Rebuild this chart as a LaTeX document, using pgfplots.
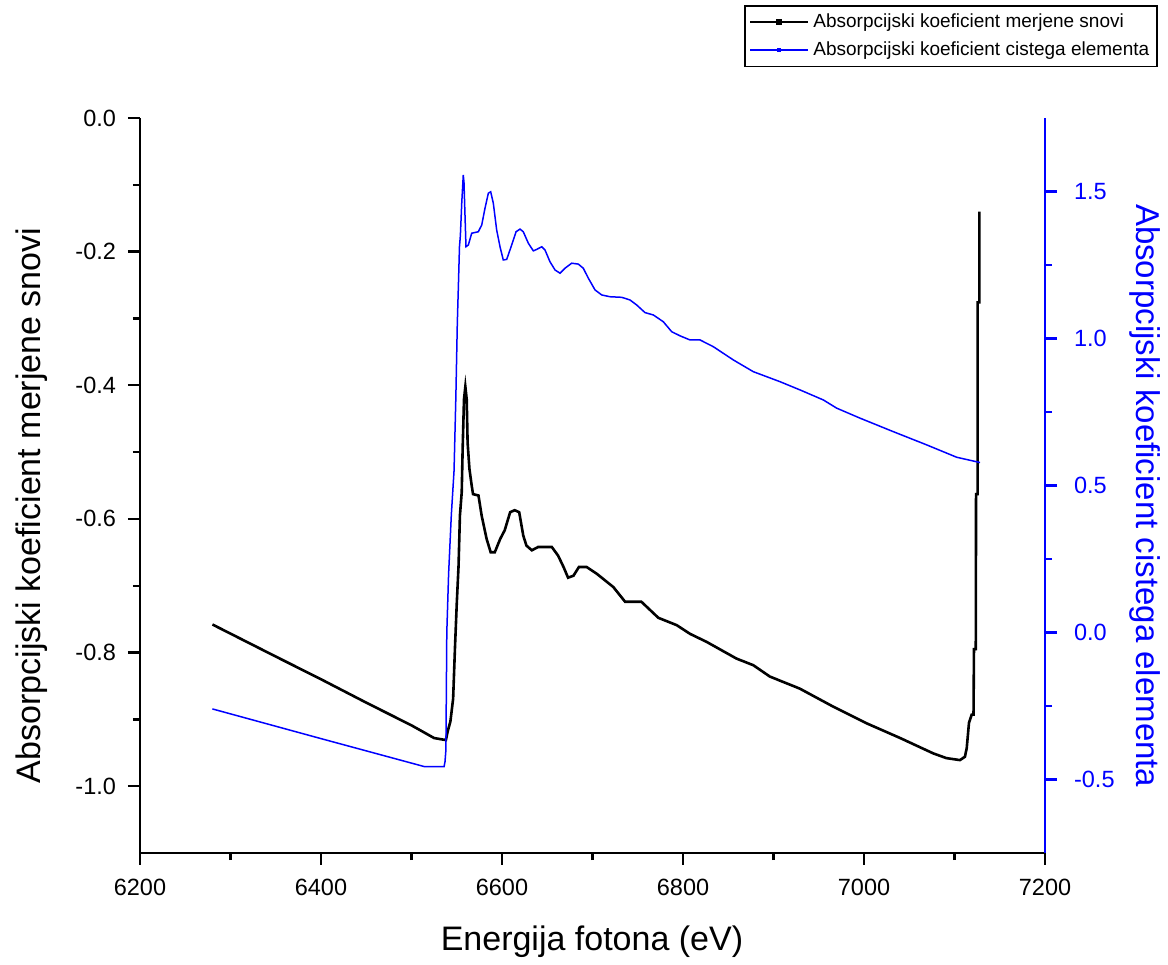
\documentclass[border=0pt]{standalone}
\usepackage{fontspec}
\setmainfont{Liberation Sans}
\usepackage{pgfplots}
\pgfplotsset{compat=1.18}
\definecolor{origblue}{RGB}{0,0,255}
\begin{document}
\begin{tikzpicture}
\pgfplotsset{
  common/.style={
    width=452.5pt, height=367.5pt, scale only axis,
    xmin=6200, xmax=7200,
    tick align=outside,
    major tick length=6pt, minor tick length=3.6pt,
    /pgf/number format/assume math mode=true,
    tick label style={font=\fontsize{11.75}{13}\selectfont},
    axis line style={-, line width=1.4pt},
    every tick/.style={line width=1.2pt},
    clip=false,
  }
}
\begin{axis}[common,
  ymin=-1.1, ymax=0,
  axis x line*=bottom, axis y line*=left,
  xtick={6200,6400,6600,6800,7000,7200},
  minor x tick num=1,
  ytick={-1.0,-0.8,-0.6,-0.4,-0.2,0.0},
  minor y tick num=1,
  xticklabel style={/pgf/number format/1000 sep={}, yshift=-3.5pt},
  yticklabel style={xshift=-2.5pt, /pgf/number format/.cd, fixed, fixed zerofill, precision=1},
  every tick/.style={line width=1.2pt, black},
  xlabel={Energija fotona (eV)},
  ylabel={Absorpcijski koeficient merjene snovi},
  every axis x label/.style={at={(axis description cs:0.4994,-0.121)}, anchor=center, font=\fontsize{17}{20}\selectfont},
  every axis y label/.style={at={(axis description cs:-0.1193,0.473)}, anchor=center, rotate=90, font=\fontsize{17}{20}\selectfont},
]
\path (axis description cs:-0.1547,-0.1497) rectangle (axis description cs:1.1359,1.1605);
\addplot[black, line width=1.3pt] coordinates {
(6280,-0.758) (6350,-0.806) (6400,-0.840) (6450,-0.875) (6500,-0.909) (6525,-0.928) (6538,-0.931)
(6540,-0.918) (6543,-0.903) (6546,-0.869) (6548,-0.794) (6550,-0.727) (6552,-0.670)
(6553.5,-0.595) (6555.5,-0.560) (6556.5,-0.496) (6558,-0.421) (6559.5,-0.402) (6561,-0.421)
(6562,-0.486) (6564,-0.525) (6566.5,-0.550) (6568,-0.563) (6574,-0.565) (6577.5,-0.595)
(6583,-0.630) (6587.5,-0.650) (6592,-0.650) (6598,-0.630) (6603,-0.617) (6609,-0.590)
(6614,-0.587) (6619,-0.590) (6623.5,-0.625) (6627,-0.640) (6633,-0.647) (6640,-0.642)
(6655,-0.642) (6662,-0.655) (6668,-0.672) (6673,-0.688) (6679,-0.685) (6685,-0.672)
(6693.5,-0.672) (6704.6,-0.682) (6723,-0.702) (6736,-0.724) (6754,-0.724) (6772.7,-0.748)
(6793,-0.759) (6807.7,-0.772) (6826,-0.784) (6859,-0.809) (6877.7,-0.819) (6896,-0.836)
(6929,-0.854) (6966,-0.881) (7003,-0.906) (7040,-0.928) (7076.6,-0.951) (7091,-0.958)
(7106,-0.961) (7111.5,-0.956) (7113.5,-0.943) (7116,-0.905) (7119,-0.893) (7121,-0.893)
(7121.5,-0.795) (7123.5,-0.795) (7123.8,-0.563) (7125.6,-0.563) (7125.6,-0.276)
(7127.4,-0.276) (7127.4,-0.140)
};
\end{axis}
\begin{axis}[common,
  ymin=-0.75, ymax=1.75,
  axis x line=none, axis y line*=right,
  ytick={-0.5,0.0,0.5,1.0,1.5},
  minor y tick num=1,
  yticklabel style={origblue, xshift=5pt, /pgf/number format/.cd, fixed, fixed zerofill, precision=1},
  y axis line style={origblue},
  every tick/.style={line width=1.2pt, origblue},
  ylabel={Absorpcijski koeficient cistega elementa},
  every axis y label/.style={at={(axis description cs:1.1105,0.486)}, anchor=center, rotate=-90, text=origblue, font=\fontsize{16.5}{20}\selectfont},
  legend style={at={(axis description cs:1.1249,1.1537)}, anchor=north east,
    draw=black, line width=0.8pt, font=\fontsize{9.5}{11.5}\selectfont,
    inner sep=2pt, row sep=1.5pt, fill=white, /tikz/every even column/.append style={column sep=1pt}},
  legend cell align=left,
  legend image code/.code={\draw[mark repeat=2,mark phase=2,#1] plot coordinates {(0pt,0pt) (14.5pt,0pt) (29pt,0pt)};},
]
\addlegendimage{black, line width=1.3pt, mark=square*, mark size=0.9pt}
\addlegendentry{Absorpcijski koeficient merjene snovi}
\addplot[origblue, line width=0.75pt, legend image post style={mark=square*, mark size=0.7pt}] coordinates {
(6280,-0.260) (6400,-0.361) (6514,-0.456) (6536,-0.456) (6537,-0.44) (6538,-0.40) (6539,0.0)
(6541,0.2) (6544,0.4) (6547,0.55) (6549,0.8) (6550.6,1.05) (6552,1.2) (6553,1.312)
(6554,1.35) (6555.5,1.46) (6557.2,1.556) (6558,1.53) (6559.1,1.42) (6560.2,1.312)
(6562.8,1.318) (6566.5,1.358) (6573.8,1.363) (6577.6,1.386) (6581.2,1.443) (6584.9,1.494)
(6587.5,1.499) (6590.4,1.46) (6594.1,1.369) (6597.8,1.312) (6601.4,1.267) (6605.2,1.269)
(6610.7,1.318) (6615.5,1.363) (6619.9,1.372) (6623.5,1.363) (6629.1,1.324) (6634.6,1.298)
(6638.3,1.303) (6643.9,1.312) (6647.5,1.301) (6653,1.261) (6658.6,1.233) (6664.1,1.222)
(6669.6,1.239) (6677,1.256) (6684.3,1.253) (6689.8,1.239) (6695.4,1.205) (6702.8,1.165)
(6710.2,1.148) (6719.3,1.142) (6732.3,1.140) (6741.4,1.131) (6748.8,1.114) (6758,1.088)
(6767.2,1.080) (6778.2,1.057) (6787.5,1.023) (6796.7,1.009) (6807.7,0.995) (6818.8,0.995)
(6833.5,0.972) (6855.6,0.927) (6877.7,0.887) (6907.2,0.853) (6929.3,0.825) (6955,0.791)
(6969.8,0.763) (6995.6,0.729) (7032.4,0.683) (7069.3,0.638) (7102.4,0.596) (7128.2,0.578)
};
\addlegendentry{Absorpcijski koeficient cistega elementa}
\end{axis}
\end{tikzpicture}
\end{document}
